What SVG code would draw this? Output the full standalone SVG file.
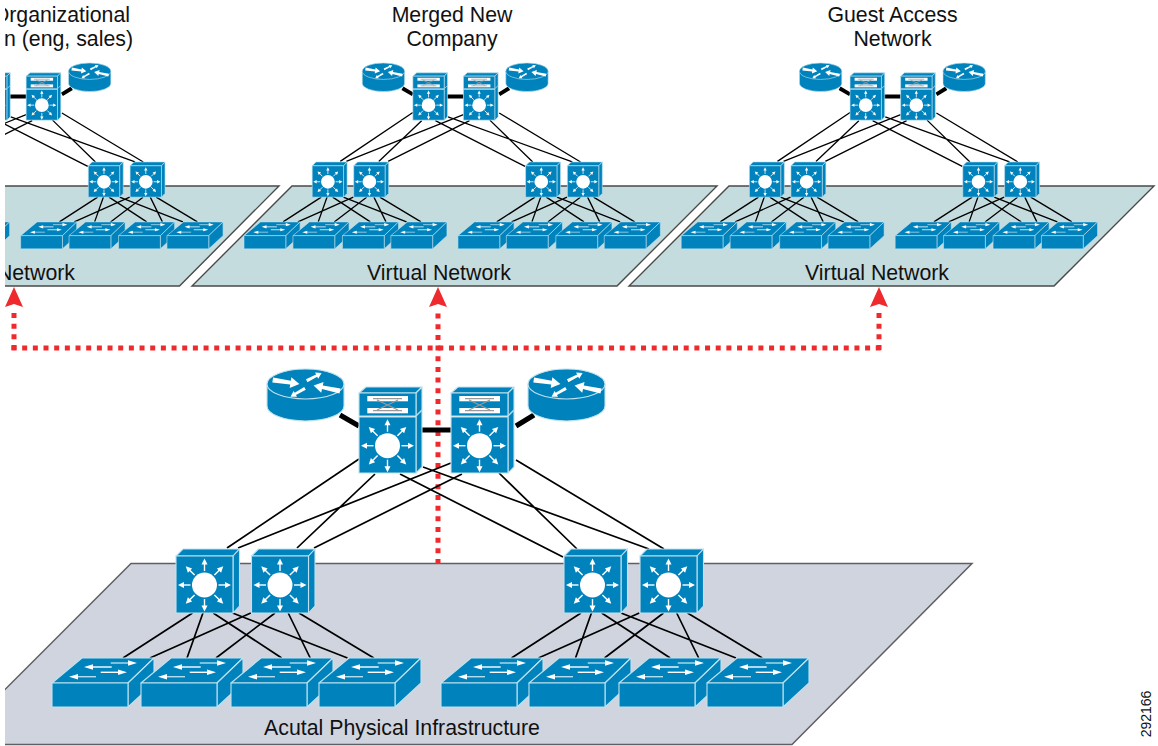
<svg xmlns="http://www.w3.org/2000/svg" xmlns:xlink="http://www.w3.org/1999/xlink" width="1158" height="746" viewBox="0 0 1158 746">
<style>
text{font-family:"Liberation Sans",Arial,sans-serif;font-size:21.3px;fill:#111}
.m{text-anchor:middle}
.e{text-anchor:end}
.b{fill:#0082bd;stroke:#c0e2ee;stroke-width:1.1;stroke-linejoin:round}
.w{fill:#fff}
.ws{stroke:#fff;stroke-width:1.4;fill:none}
.wl{stroke:#b5ddeb;stroke-width:1.4;fill:none}
.p1{fill:#c5dcdf;stroke:#4a4a4a;stroke-width:1.4}
.p2{fill:#d0d4df;stroke:#5f5f63;stroke-width:1.5}
.thin{stroke:#000;fill:none}
.thick{stroke:#000;fill:none}
.red{stroke:#ee2a2e;stroke-width:5;stroke-dasharray:5 5.67;fill:none}
.rh{fill:#ee2a2e}
</style>
<defs>
<clipPath id="crop"><rect x="5" y="0" width="1153" height="746"/></clipPath>
<g id="a8"><path d="M0,-14V-22" stroke="#fff" stroke-width="1.4"/><polygon class="w" points="0,-26.5 -3,-20.5 3,-20.5"/></g>
<g id="star">
<circle class="w" r="12.5"/>
<use xlink:href="#a8"/><use xlink:href="#a8" transform="rotate(45)"/><use xlink:href="#a8" transform="rotate(90)"/><use xlink:href="#a8" transform="rotate(135)"/><use xlink:href="#a8" transform="rotate(180)"/><use xlink:href="#a8" transform="rotate(225)"/><use xlink:href="#a8" transform="rotate(270)"/><use xlink:href="#a8" transform="rotate(315)"/>
</g>
<path id="ra" class="w" d="M0,-2.6L18,-1.9 18,-5.5 27,0 18,5.5 18,1.9 0,2.6Z"/>
<g id="router">
<path class="b" d="M0,15V37A38.5,15 0 0 0 77,37V15Z"/>
<ellipse class="b" cx="38.5" cy="15" rx="38.5" ry="15"/>
<use xlink:href="#ra" transform="translate(5.7,11) rotate(8.5)"/>
<use xlink:href="#ra" transform="translate(39.7,11.7) rotate(-27) scale(.62)"/>
<use xlink:href="#ra" transform="translate(73,22) rotate(192)"/>
<use xlink:href="#ra" transform="translate(38,19.3) rotate(150) scale(.62)"/>
</g>
<g id="core">
<polygon class="b" points="0,6 7,0 63,0 57,6"/>
<polygon class="b" points="57,6 63,0 63,80 57,86"/>
<path class="wl" d="M57,29L63,23"/>
<rect class="b" x="0" y="6" width="57" height="23"/>
<rect class="w" x="8.3" y="9" width="40.7" height="5.3"/>
<rect class="w" x="8.3" y="21" width="40.7" height="5.3"/>
<path d="M14,11.6H43M14,23.6H43M18,13L39,23M39,13L18,23" stroke="#9a9a9a" stroke-width="1.3" fill="none"/>
<rect class="b" x="0" y="30" width="57" height="56"/>
<use xlink:href="#star" transform="translate(28.5,58.7)"/>
</g>
<g id="dist">
<polygon class="b" points="0,7 7,0 63.5,0 57,7"/>
<polygon class="b" points="57,7 63.5,0 63.5,57 57,64"/>
<rect class="b" x="0" y="7" width="57" height="57"/>
<use xlink:href="#star" transform="translate(28.5,36)"/>
</g>
<g id="access">
<polygon class="b" points="0,25 30,0 102,0 76,25"/>
<polygon class="b" points="76,25 102,0 102,25 76,49"/>
<rect class="b" x="0" y="25" width="76" height="24"/>
<path class="wl" d="M58.7,5H78"/><polygon class="w" points="85,5 76,2.2 76,7.8"/>
<path class="ws" d="M59.7,9H39"/><polygon class="w" points="32,9 41,6.2 41,11.8"/>
<path class="ws" d="M48.7,14.3H68"/><polygon class="w" points="75,14.3 66,11.5 66,17.1"/>
<path class="wl" d="M44,18.7H24"/><polygon class="w" points="17,18.7 26,15.9 26,21.5"/>
</g>
<g id="dl">
<path d="M192.5,613L123,658M204,610L187,658M213.2,613L281.7,658M232.5,613L347.5,658M250.8,613L150,658M275,613L216,658M288.2,613L310.2,658M299,613L373.8,658"/>
</g>
<g id="thinlinks">
<path d="M359,459L227,548M375,474L297,548M400,474L563,557M423,467L649,549M451,463L238,548M462,474L314,548M499,473L577,549M516,460L664,549"/>
<use xlink:href="#dl"/>
<use xlink:href="#dl" transform="translate(388.5,0)"/>
</g>
<path id="thicklinks" d="M340,415L359,426M516,426L534,415M416,430H451"/>
</defs>

<g clip-path="url(#crop)">
<g id="planes">
<polygon id="plane-org" class="p1" points="-100,186 279,186 179.5,286 -200,286"/>
<polygon id="plane-merged" class="p1" points="292,186 717,186 617,286 192,286"/>
<polygon id="plane-guest" class="p1" points="729,186 1154,186 1054,286 629,286"/>
<polygon id="plane-physical" class="p2" points="131,563.5 972,563.5 792,744.5 -50,744.5"/>
</g>

<g id="mapping">
<path class="red" d="M14,350V308"/>
<path class="red" d="M438,564V308"/>
<path class="red" d="M879,350V308"/>
<path class="red" d="M11.5,348H881.5"/>
<polygon class="rh" points="14,287 23,307 14,304 5,307"/>
<polygon class="rh" points="438,287 447,307 438,304 429,307"/>
<polygon class="rh" points="879,287 888,307 879,304 870,307"/>
</g>

<g id="connectors">
<g class="thin">
<use xlink:href="#thinlinks" stroke-width="1.7"/>
<use xlink:href="#thinlinks" stroke-width="2.4" transform="translate(-221.9,-140) scale(.55)"/>
<use xlink:href="#thinlinks" stroke-width="2.4" transform="translate(215.4,-140) scale(.55)"/>
<use xlink:href="#thinlinks" stroke-width="2.4" transform="translate(652.6,-140) scale(.55)"/>
</g>
<g class="thick">
<use xlink:href="#thicklinks" stroke-width="5"/>
<use xlink:href="#thicklinks" stroke-width="7" transform="translate(-221.9,-140) scale(.55)"/>
<use xlink:href="#thicklinks" stroke-width="7" transform="translate(215.4,-140) scale(.55)"/>
<use xlink:href="#thicklinks" stroke-width="7" transform="translate(652.6,-140) scale(.55)"/>
</g>
</g>

<g id="cluster-org" transform="translate(-221.9,-140) scale(.55)">
<g id="o-core1"><use xlink:href="#core" x="359" y="387"/></g>
<g id="o-core2"><use xlink:href="#core" x="451" y="387"/></g>
<g id="o-router2"><use xlink:href="#router" x="528" y="369"/></g>
<g id="o-dist3"><use xlink:href="#dist" x="564" y="549"/></g>
<g id="o-dist4"><use xlink:href="#dist" x="640" y="549"/></g>
<g id="o-acc4"><use xlink:href="#access" x="319" y="658"/></g>
<g id="o-acc5"><use xlink:href="#access" x="441" y="658"/></g>
<g id="o-acc6"><use xlink:href="#access" x="529" y="658"/></g>
<g id="o-acc7"><use xlink:href="#access" x="619" y="658"/></g>
<g id="o-acc8"><use xlink:href="#access" x="707" y="658"/></g>
</g>

<g id="cluster-merged" transform="translate(215.4,-140) scale(.55)">
<g id="m-router1"><use xlink:href="#router" x="267" y="369"/></g>
<g id="m-router2"><use xlink:href="#router" x="528" y="369"/></g>
<g id="m-core1"><use xlink:href="#core" x="359" y="387"/></g>
<g id="m-core2"><use xlink:href="#core" x="451" y="387"/></g>
<g id="m-dist1"><use xlink:href="#dist" x="176" y="549"/></g>
<g id="m-dist2"><use xlink:href="#dist" x="251.5" y="549"/></g>
<g id="m-dist3"><use xlink:href="#dist" x="564" y="549"/></g>
<g id="m-dist4"><use xlink:href="#dist" x="640" y="549"/></g>
<g id="m-acc1"><use xlink:href="#access" x="52" y="658"/></g>
<g id="m-acc2"><use xlink:href="#access" x="141" y="658"/></g>
<g id="m-acc3"><use xlink:href="#access" x="231" y="658"/></g>
<g id="m-acc4"><use xlink:href="#access" x="319" y="658"/></g>
<g id="m-acc5"><use xlink:href="#access" x="441" y="658"/></g>
<g id="m-acc6"><use xlink:href="#access" x="529" y="658"/></g>
<g id="m-acc7"><use xlink:href="#access" x="619" y="658"/></g>
<g id="m-acc8"><use xlink:href="#access" x="707" y="658"/></g>
</g>

<g id="cluster-guest" transform="translate(652.6,-140) scale(.55)">
<g id="g-router1"><use xlink:href="#router" x="267" y="369"/></g>
<g id="g-router2"><use xlink:href="#router" x="528" y="369"/></g>
<g id="g-core1"><use xlink:href="#core" x="359" y="387"/></g>
<g id="g-core2"><use xlink:href="#core" x="451" y="387"/></g>
<g id="g-dist1"><use xlink:href="#dist" x="176" y="549"/></g>
<g id="g-dist2"><use xlink:href="#dist" x="251.5" y="549"/></g>
<g id="g-dist3"><use xlink:href="#dist" x="564" y="549"/></g>
<g id="g-dist4"><use xlink:href="#dist" x="640" y="549"/></g>
<g id="g-acc1"><use xlink:href="#access" x="52" y="658"/></g>
<g id="g-acc2"><use xlink:href="#access" x="141" y="658"/></g>
<g id="g-acc3"><use xlink:href="#access" x="231" y="658"/></g>
<g id="g-acc4"><use xlink:href="#access" x="319" y="658"/></g>
<g id="g-acc5"><use xlink:href="#access" x="441" y="658"/></g>
<g id="g-acc6"><use xlink:href="#access" x="529" y="658"/></g>
<g id="g-acc7"><use xlink:href="#access" x="619" y="658"/></g>
<g id="g-acc8"><use xlink:href="#access" x="707" y="658"/></g>
</g>

<g id="cluster-physical">
<g id="p-router1"><use xlink:href="#router" x="267" y="369"/></g>
<g id="p-router2"><use xlink:href="#router" x="528" y="369"/></g>
<g id="p-core1"><use xlink:href="#core" x="359" y="387"/></g>
<g id="p-core2"><use xlink:href="#core" x="451" y="387"/></g>
<g id="p-dist1"><use xlink:href="#dist" x="176" y="549"/></g>
<g id="p-dist2"><use xlink:href="#dist" x="251.5" y="549"/></g>
<g id="p-dist3"><use xlink:href="#dist" x="564" y="549"/></g>
<g id="p-dist4"><use xlink:href="#dist" x="640" y="549"/></g>
<g id="p-acc1"><use xlink:href="#access" x="52" y="658"/></g>
<g id="p-acc2"><use xlink:href="#access" x="141" y="658"/></g>
<g id="p-acc3"><use xlink:href="#access" x="231" y="658"/></g>
<g id="p-acc4"><use xlink:href="#access" x="319" y="658"/></g>
<g id="p-acc5"><use xlink:href="#access" x="441" y="658"/></g>
<g id="p-acc6"><use xlink:href="#access" x="529" y="658"/></g>
<g id="p-acc7"><use xlink:href="#access" x="619" y="658"/></g>
<g id="p-acc8"><use xlink:href="#access" x="707" y="658"/></g>
</g>

<g id="labels">
<text class="e" x="130" y="22">Organizational</text>
<text class="e" x="133" y="46">n (eng, sales)</text>
<text class="m" x="452" y="22">Merged New</text>
<text class="m" x="452" y="46">Company</text>
<text class="m" x="892.5" y="22">Guest Access</text>
<text class="m" x="892.5" y="46">Network</text>
<text class="e" x="75" y="280">Network</text>
<text class="m" x="439" y="280">Virtual Network</text>
<text class="m" x="877" y="280">Virtual Network</text>
<text class="m" x="402" y="735">Acutal Physical Infrastructure</text>
<text style="font-size:14px" class="m" transform="translate(1151,714) rotate(-90)">292166</text>
</g>
</g>
</svg>
